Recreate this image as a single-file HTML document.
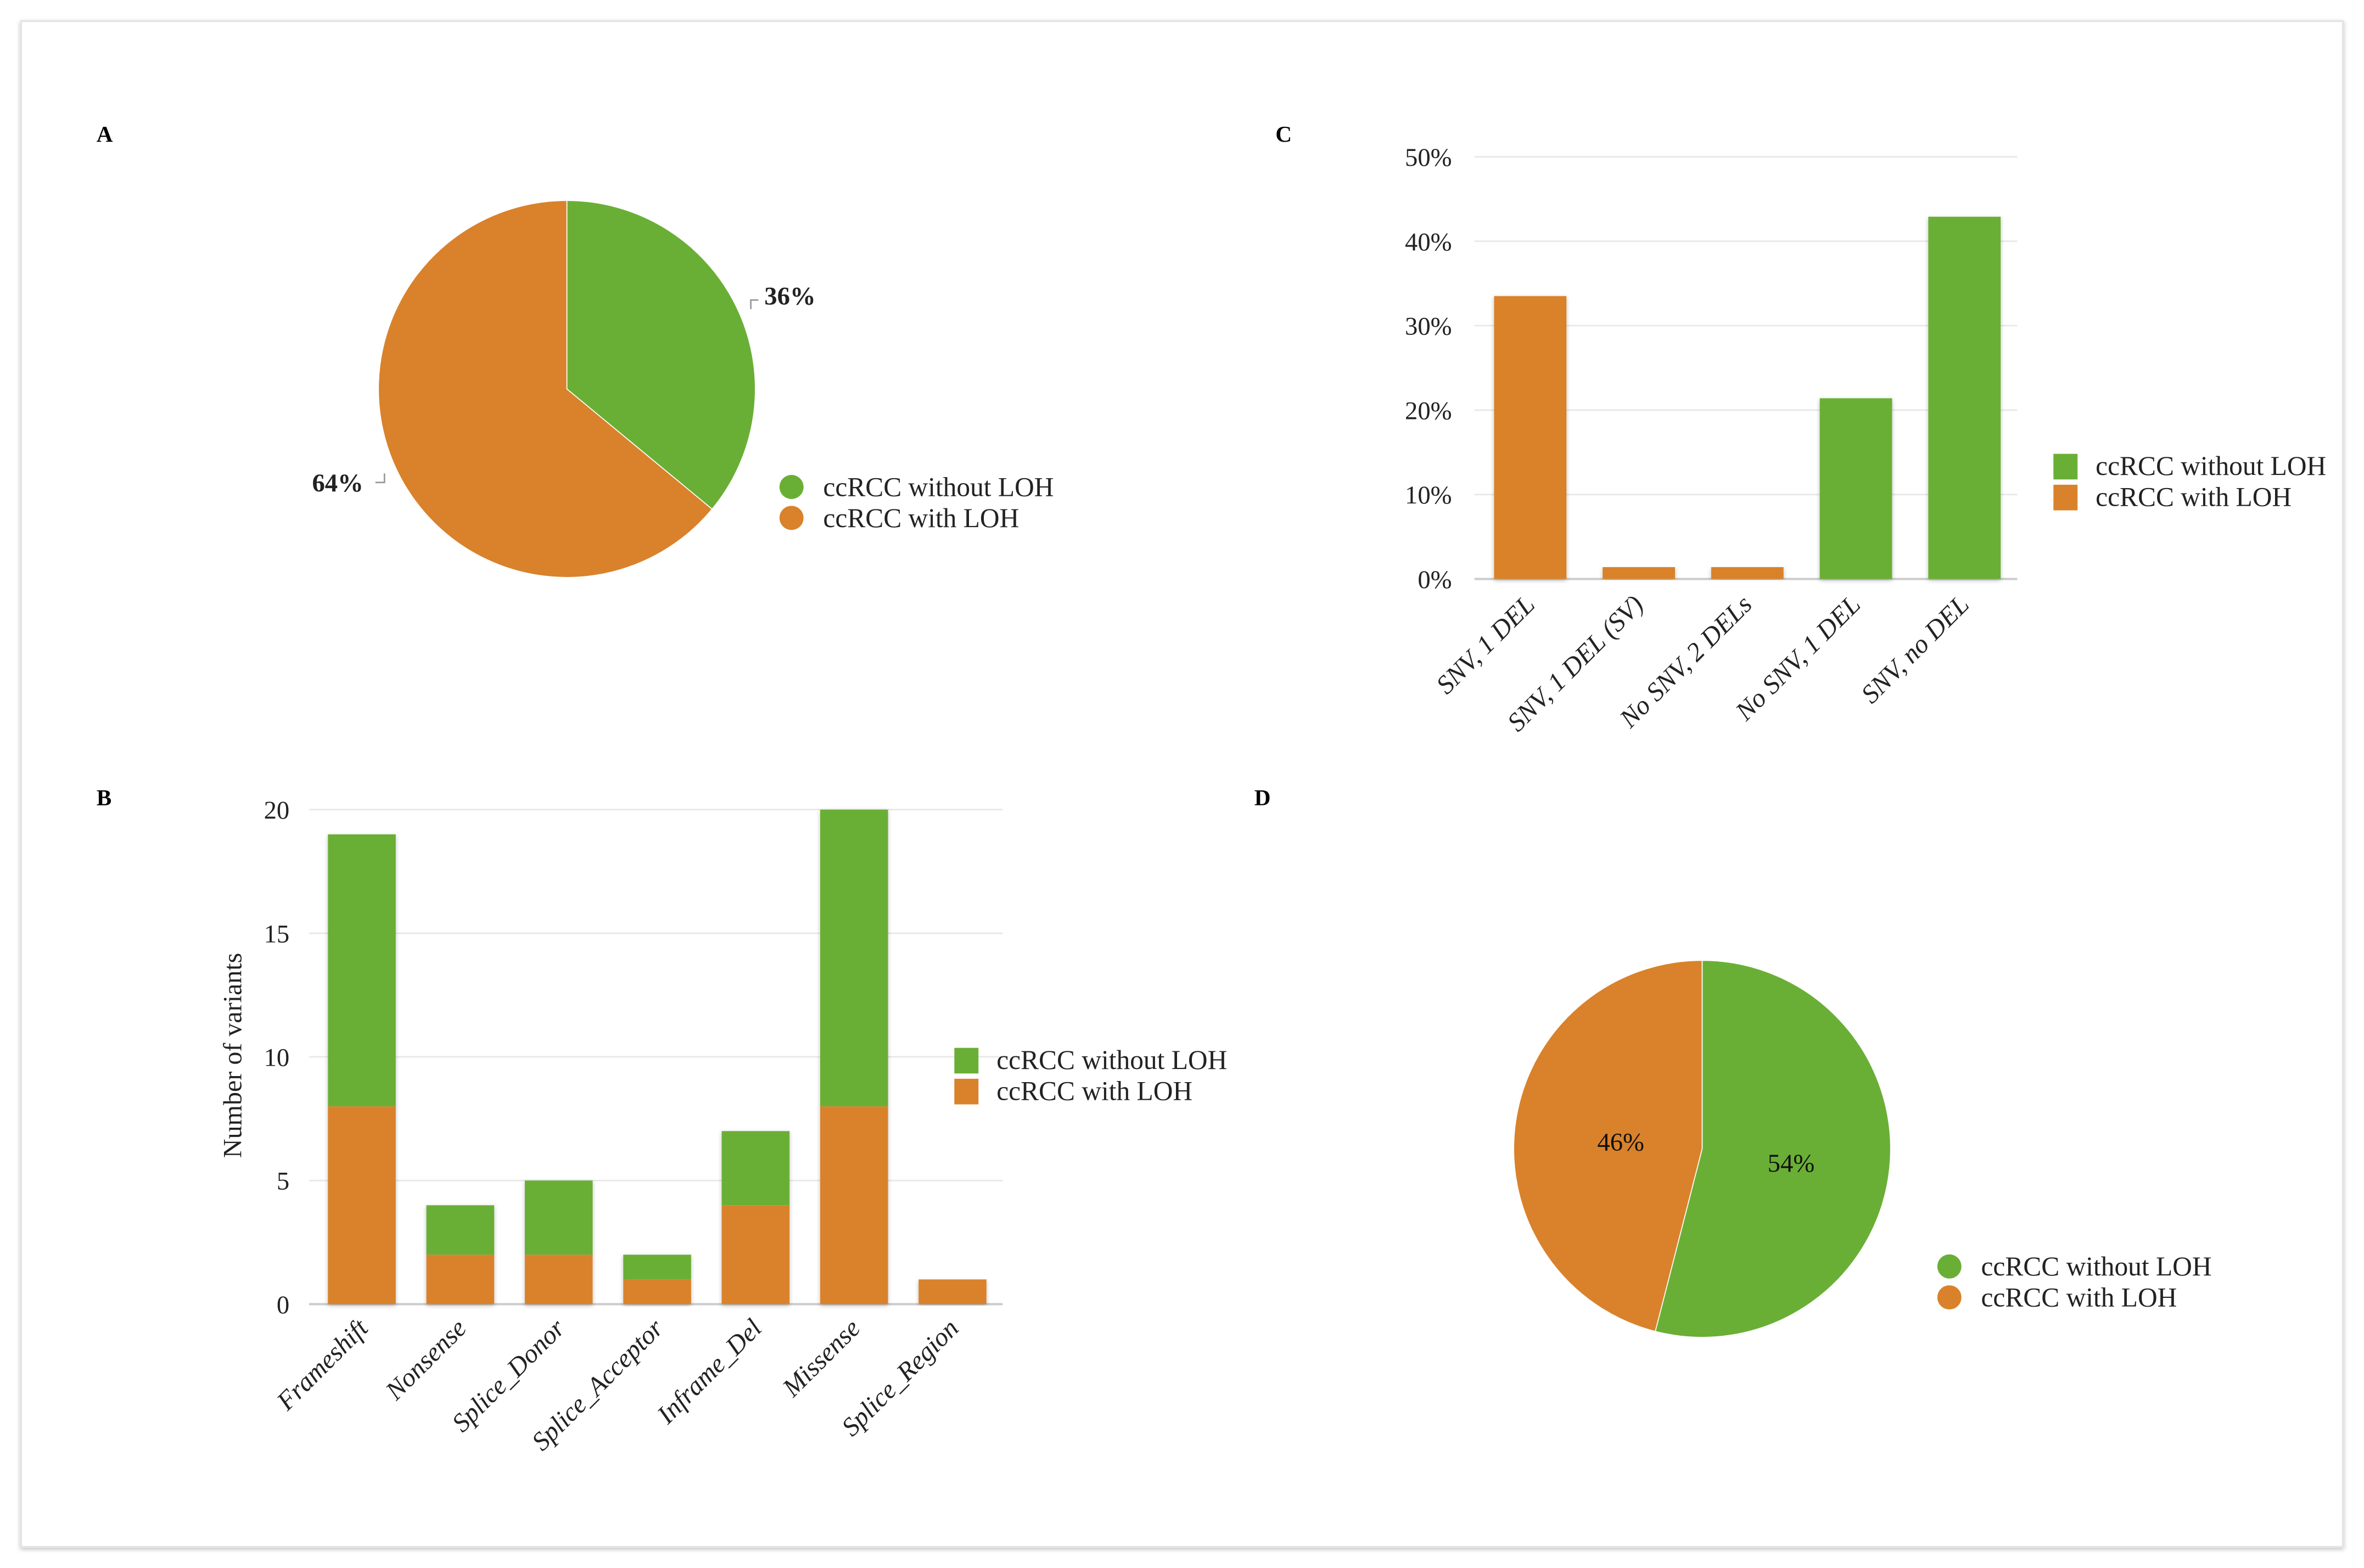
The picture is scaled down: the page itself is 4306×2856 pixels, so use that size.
<!DOCTYPE html>
<html><head><meta charset="utf-8"><style>
html,body{margin:0;padding:0;background:#fff;}
svg{display:block;font-family:"Liberation Serif",serif;}
</style></head><body>
<svg id="fig" width="4306" height="2856" viewBox="0 0 1568 1040" preserveAspectRatio="none" xmlns="http://www.w3.org/2000/svg">
<defs><filter id="sh" x="-5%" y="-5%" width="110%" height="110%"><feDropShadow dx="0" dy="1" stdDeviation="1.5" flood-color="#000" flood-opacity="0.25"/></filter></defs>
<rect x="14" y="14" width="1540" height="1012" fill="#fff" stroke="#e4e4e4" stroke-width="1.2" filter="url(#sh)"/>
<g font-weight="bold" font-size="15">
<text x="64" y="94">A</text>
<text x="846" y="94">C</text>
<text x="64" y="534">B</text>
<text x="832" y="534">D</text>
</g>
<g id="gA"></g>
<g id="gC"></g>
<g id="gB"></g>
<g id="gD"></g>
</svg>
<script>
const GREEN="#6aaf35", ORANGE="#d9822b";
const seriesNames=["ccRCC without LOH","ccRCC with LOH"];
const pieAValues=[36,64];
const pieDValues=[54,46];
const cCategories=["SNV, 1 DEL","SNV, 1 DEL (SV)","No SNV, 2 DELs","No SNV, 1 DEL","SNV, no DEL"];
const cValues=[33.5,1.4,1.4,21.4,42.9];
const cSeriesIdx=[1,1,1,0,0];
const cTicks=[0,10,20,30,40,50];
const bCategories=["Frameshift","Nonsense","Splice_Donor","Splice_Acceptor","Inframe_Del","Missense","Splice_Region"];
const bWithLOH=[8,2,2,1,4,8,1];
const bWithoutLOH=[11,2,3,1,3,12,0];
const bTicks=[0,5,10,15,20];

const NS="http://www.w3.org/2000/svg";
function mk(parent,tag,attrs,text){const e=document.createElementNS(NS,tag);for(const k in attrs)e.setAttribute(k,attrs[k]);if(text!==undefined)e.textContent=text;parent.appendChild(e);return e;}
const colors=[GREEN,ORANGE];

function pie(g,cx,cy,r,vals,labelFn){
  let tot=vals.reduce((a,b)=>a+b,0),a0=0;
  vals.forEach((v,i)=>{
    const a1=a0+v/tot*2*Math.PI;
    const x0=cx+r*Math.sin(a0),y0=cy-r*Math.cos(a0),x1=cx+r*Math.sin(a1),y1=cy-r*Math.cos(a1);
    const p=mk(g,"path",{d:`M${cx},${cy}L${x0},${y0}A${r},${r} 0 ${a1-a0>Math.PI?1:0} 1 ${x1},${y1}Z`,fill:colors[i],stroke:"#fff","stroke-width":0.6});
    
    
    labelFn(g,i,v,(a0+a1)/2);
    a0=a1;
  });
}
function legendCircle(g,x,y){
  seriesNames.forEach((n,i)=>{
    const it=mk(g,"g",{});
    
    
    mk(it,"circle",{cx:x,cy:y+i*20.5,r:8,fill:colors[i]});
    mk(it,"text",{x:x+21,y:y+i*20.5+6,"font-size":18,fill:"#222"},n);
  });
}
function legendSquare(g,x,y){
  seriesNames.forEach((n,i)=>{
    const it=mk(g,"g",{});
    
    
    mk(it,"rect",{x:x,y:y+i*20.5-8,width:16,height:17,fill:colors[i]});
    mk(it,"text",{x:x+28,y:y+i*20.5+6,"font-size":18,fill:"#222"},n);
  });
}

const gA=document.getElementById("gA");
pie(gA,376,258,125,pieAValues,(g,i,v,am)=>{
  const t=mk(g,"text",{"font-size":17,"font-weight":"bold",fill:"#222",x:i===0?507:207,y:i===0?202:326},v+"%");
  
  
  if(i===0)mk(g,"path",{d:"M498,205V199H503",stroke:"#999",fill:"none","stroke-width":1});
  else mk(g,"path",{d:"M249,320H255V314",stroke:"#999",fill:"none","stroke-width":1});
});
legendCircle(gA,525,323);

const gD=document.getElementById("gD");
pie(gD,1129,762,125,pieDValues,(g,i,v,am)=>{
  const t=mk(g,"text",{"font-size":17,fill:"#111",x:i===0?1188:1075,y:i===0?777:763,"text-anchor":"middle"},v+"%");
  
  
});
legendCircle(gD,1293,840);

const gC=document.getElementById("gC");
const cY=v=>384-v*5.6, cX=i=>1015+i*72;
cTicks.forEach(t=>{
  mk(gC,"line",{x1:978,x2:1338,y1:cY(t),y2:cY(t),stroke:t===0?"#ccc":"#e8e8e8","stroke-width":t===0?1.5:1});
  const tl=mk(gC,"text",{x:963,y:cY(t)+6,"text-anchor":"end","font-size":17,fill:"#222"},t+"%");
  
  
});
cValues.forEach((v,i)=>{
  const r=mk(gC,"rect",{x:cX(i)-24,y:cY(v),width:48,height:cY(0)-cY(v),fill:colors[cSeriesIdx[i]],filter:"url(#sh)"});
  
  
  const t=mk(gC,"text",{x:cX(i)+4,y:402,"text-anchor":"end","font-size":17.5,"font-style":"italic",fill:"#222",transform:`rotate(-45 ${cX(i)+4} 402)`},cCategories[i]);
  
  
});
legendSquare(gC,1362,309);

const gB=document.getElementById("gB");
const bY=v=>865-v*16.4, bX=i=>240+i*65.3;
bTicks.forEach(t=>{
  mk(gB,"line",{x1:205,x2:665,y1:bY(t),y2:bY(t),stroke:t===0?"#ccc":"#e8e8e8","stroke-width":t===0?1.5:1});
  const tl=mk(gB,"text",{x:192,y:bY(t)+6,"text-anchor":"end","font-size":17,fill:"#222"},t);
  
  
});
const yt=mk(gB,"text",{x:160,y:700,"text-anchor":"middle","font-size":17.5,fill:"#222",transform:"rotate(-90 160 700)"},"Number of variants");


bCategories.forEach((c,i)=>{
  const tot=bWithLOH[i]+bWithoutLOH[i];
  mk(gB,"rect",{x:bX(i)-22.5,y:bY(tot),width:45,height:bY(0)-bY(tot),fill:"#fff",filter:"url(#sh)"});
  const r1=mk(gB,"rect",{x:bX(i)-22.5,y:bY(bWithLOH[i]),width:45,height:bY(0)-bY(bWithLOH[i]),fill:ORANGE});
  
  
  const r2=mk(gB,"rect",{x:bX(i)-22.5,y:bY(tot),width:45,height:bY(bWithLOH[i])-bY(tot),fill:GREEN});
  
  
  const t=mk(gB,"text",{x:bX(i)+5,y:882,"text-anchor":"end","font-size":17.5,"font-style":"italic",fill:"#222",transform:`rotate(-45 ${bX(i)+5} 882)`},c);
  
  
});
legendSquare(gB,633,703);
</script>
</body></html>
